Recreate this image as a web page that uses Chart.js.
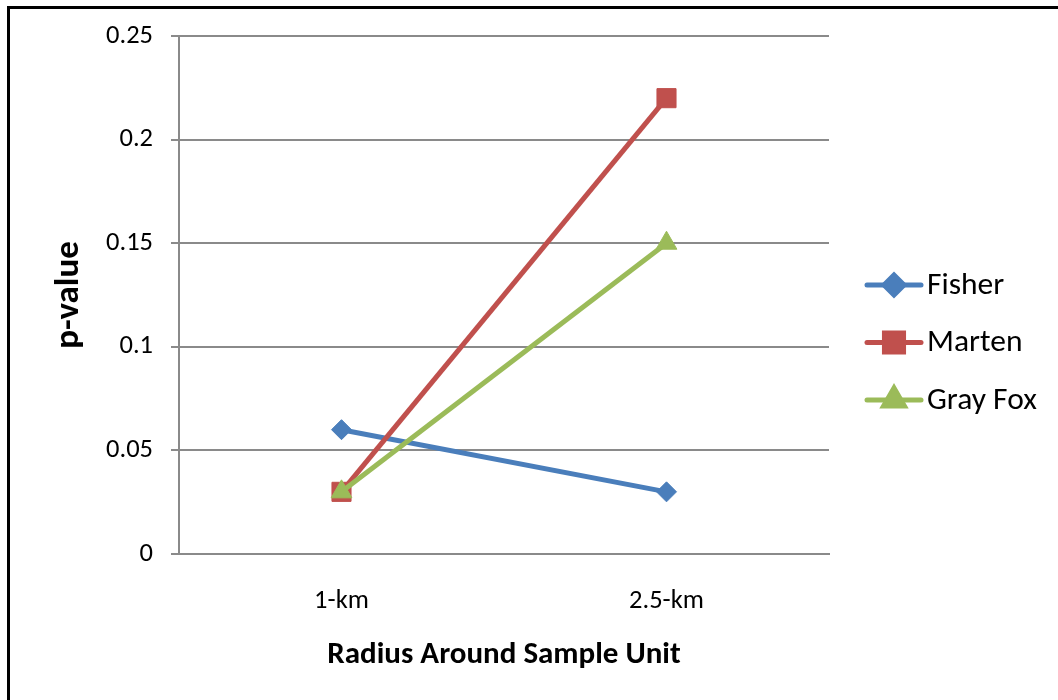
<!DOCTYPE html>
<html>
<head>
<meta charset="utf-8">
<script src="https://cdn.jsdelivr.net/npm/chart.js@4/dist/chart.umd.min.js"></script>
<style>
  html, body { margin: 0; padding: 0; background: #fff; overflow: hidden; }
  #frame {
    position: absolute; left: 7px; top: 6px;
    width: 1100px; height: 760px;
    border-left: 3px solid #000; border-top: 3px solid #000;
  }
  #wrap { position: absolute; left: 0; top: 0; width: 1058px; height: 700px; }
</style>
</head>
<body>
<div id="frame"></div>
<div id="wrap"><canvas id="pChart"></canvas></div>
<script>
// ---- data ----
const radii       = ['1-km', '2.5-km'];
const fisherVals  = [0.06, 0.03];
const martenVals  = [0.03, 0.22];
const grayFoxVals = [0.03, 0.15];
const yTickLabels = ['0', '0.05', '0.1', '0.15', '0.2', '0.25'];

const FONT = 'Carlito, Calibri, Lato, sans-serif';
const GRID = '#8a8a8a';

function series(label, data, color, style, radius, order) {
    return {
        label: label,
        data: data,
        borderColor: color,
        backgroundColor: color,
        borderWidth: 5,
        pointStyle: style,
        pointRadius: radius,
        pointHoverRadius: radius,
        pointBackgroundColor: color,
        pointBorderColor: color,
        pointBorderWidth: 1,
        tension: 0,
        order: order
    };
}

// ---- legend drawn on the right, Excel style ----
const sideLegend = {
    id: 'sideLegend',
    afterDraw(chart) {
        const ctx = chart.ctx;
        const x0 = chart.chartArea.right + 38;
        chart.data.datasets.forEach((ds, i) => {
            const y = 285 + i * 57.5;
            ctx.save();
            ctx.strokeStyle = ds.borderColor;
            ctx.lineWidth = 5;
            ctx.lineCap = 'round';
            ctx.beginPath();
            ctx.moveTo(x0, y);
            ctx.lineTo(x0 + 54, y);
            ctx.stroke();
            ctx.fillStyle = ds.backgroundColor;
            Chart.helpers.drawPoint(ctx, {
                pointStyle: ds.pointStyle, radius: ds.pointRadius, rotation: 0, borderWidth: 1
            }, x0 + 27, y);
            ctx.fill();
            ctx.fillStyle = '#000';
            ctx.font = '31.5px ' + FONT;
            ctx.textBaseline = 'middle';
            ctx.textAlign = 'left';
            ctx.fillText(ds.label, x0 + 60, y + 1);
            ctx.restore();
        });
    }
};

const ctx = document.getElementById('pChart').getContext('2d');
new Chart(ctx, {
    type: 'line',
    data: {
        labels: radii,
        datasets: [
            series('Fisher', fisherVals, '#4a7ebb', 'rectRot', 10, 3),
            series('Marten', martenVals, '#c0504d', 'rect', 13.5, 2),
            series('Gray Fox', grayFoxVals, '#9bbb59', 'triangle', 12, 1)
        ]
    },
    options: {
        responsive: true,
        maintainAspectRatio: false,
        animation: false,
        layout: { padding: { top: 36, right: 229, bottom: 0, left: 0 } },
        plugins: { legend: { display: false }, tooltip: { enabled: false } },
        scales: {
            x: {
                offset: true,
                grid: { display: false, drawTicks: false },
                border: { display: true, color: GRID, width: 2 },
                ticks: { color: '#000', font: { family: FONT, size: 26.5 }, padding: 31 },
                title: {
                    display: true, text: 'Radius Around Sample Unit', color: '#000',
                    font: { family: FONT, size: 31, weight: 'bold' },
                    padding: { top: 0, bottom: 26 }
                },
                afterFit(scale) { scale.height = 146; }
            },
            y: {
                min: 0,
                max: 0.25,
                grid: { color: GRID, lineWidth: 2, tickLength: 8, drawTicks: true },
                border: { display: true, color: GRID, width: 2 },
                ticks: {
                    stepSize: 0.05,
                    color: '#000',
                    font: { family: FONT, size: 26.5 },
                    padding: 18,
                    callback: (v, i) => yTickLabels[i]
                },
                title: {
                    display: true, text: 'p-value', color: '#000',
                    font: { family: FONT, size: 35, weight: 'bold' },
                    padding: { top: 48, bottom: 0 }
                },
                afterFit(scale) { scale.width = 179; }
            }
        }
    },
    plugins: [sideLegend]
});
</script>
</body>
</html>
